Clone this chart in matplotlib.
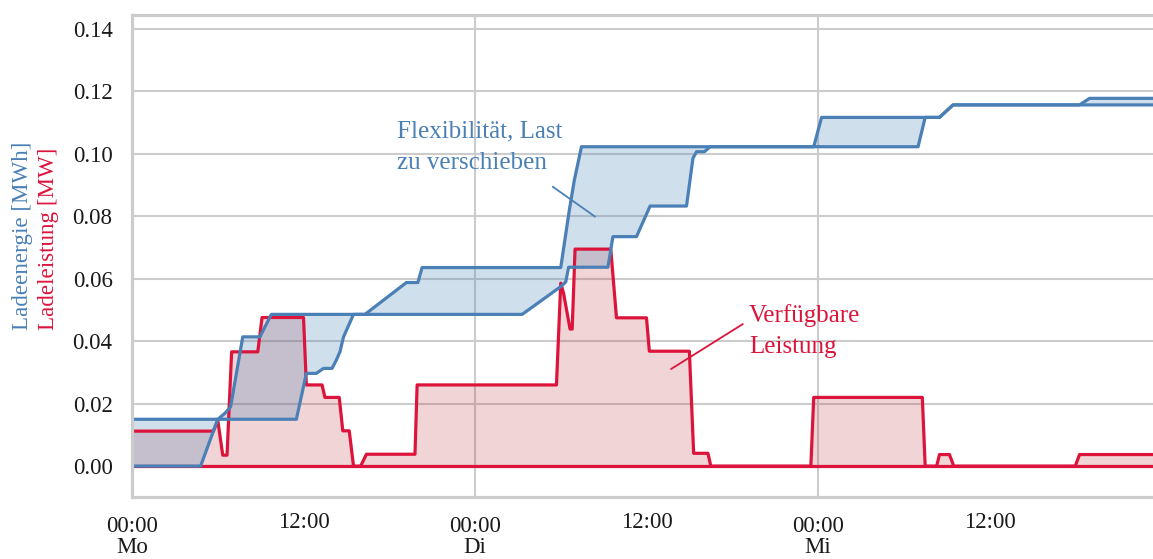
import numpy as np
import matplotlib
matplotlib.use('Agg')
import matplotlib.pyplot as plt

# hours since Monday 00:00
t_upper = [0, 6.0, 6.5, 6.9, 7.75, 8.95, 9.75, 16.3, 19.2, 20.0, 20.3, 30.0,
           30.6, 30.95, 31.45, 47.7, 48.25, 56.5, 57.45, 66.3, 67.0, 72]
e_upper = [0.015, 0.015, 0.0169, 0.019, 0.0414, 0.0414, 0.0486, 0.0486, 0.0588, 0.0588,
           0.0636, 0.0636, 0.082, 0.0916, 0.1023, 0.1023, 0.1117, 0.1117, 0.1157, 0.1157,
           0.1178, 0.1178]

t_lower = [0, 4.8, 6.0, 11.5, 12.2, 12.9, 13.4, 14.0, 14.3, 14.55, 14.8, 15.5, 27.3,
           30.0, 30.35, 30.55, 33.3, 33.65, 35.3, 36.25, 38.8, 39.25, 39.5, 40.05, 40.45,
           55.0, 55.5, 56.5, 57.45, 72]
e_lower = [0, 0, 0.015, 0.015, 0.0297, 0.0297, 0.0313, 0.0313, 0.034, 0.0366, 0.0414,
           0.0486, 0.0486, 0.0575, 0.059, 0.0637, 0.0637, 0.0735, 0.0735, 0.0833, 0.0833,
           0.0986, 0.1007, 0.1007, 0.1023, 0.1023, 0.1117, 0.1117, 0.1157, 0.1157]

t_power = [0, 5.7, 6.0, 6.35, 6.65, 6.97, 8.8, 9.1, 12.0, 12.2, 13.3, 13.5, 14.5, 14.75,
           15.2, 15.5, 16.0, 16.4, 19.8, 19.95, 29.7, 30.0, 30.2, 30.65, 30.8, 31.0, 33.5,
           33.9, 36.0, 36.2, 39.0, 39.3, 40.3, 40.5, 47.5, 47.7, 55.3, 55.5, 56.3, 56.5,
           57.2, 57.5, 66.0, 66.3, 72]
p_power = [0.0112, 0.0112, 0.0147, 0.0035, 0.0035, 0.0366, 0.0366, 0.0476, 0.0476, 0.026,
           0.026, 0.022, 0.022, 0.0113, 0.0113, 0, 0, 0.0038, 0.0038, 0.026, 0.026, 0.0586,
           0.0553, 0.0439, 0.0439, 0.0695, 0.0695, 0.0475, 0.0475, 0.0368, 0.0368, 0.0041,
           0.0041, 0, 0, 0.022, 0.022, 0, 0, 0.0037, 0.0037, 0, 0, 0.0037, 0.0037]

major_ticks = [0, 24, 48]
major_labels = ['00:00\nMo', '00:00\nDi', '00:00\nMi']
minor_ticks = [12, 36, 60]
minor_labels = ['12:00', '12:00', '12:00']
y_ticks = [0.0, 0.02, 0.04, 0.06, 0.08, 0.10, 0.12, 0.14]

blue = '#4a80b6'
red = '#dc143c'
grid_c = '#cccccc'

plt.rcParams['font.family'] = ['Liberation Serif', 'DejaVu Serif']

fig = plt.figure(figsize=(11.53, 5.59), dpi=100)
ax = fig.add_axes([132 / 1153, 1 - 497 / 559, 1029 / 1153, 482 / 559])

# available power
ax.fill_between(t_power, 0, p_power, color='#b42832', alpha=0.2, lw=0)
ax.plot(t_power, p_power, color=red, lw=2.3)
ax.plot([0, 72], [0, 0], color=red, lw=2.3)

# flexibility band between earliest and latest charging
ax.fill(np.concatenate([t_upper, t_lower[::-1]]),
        np.concatenate([e_upper, e_lower[::-1]]),
        color='#4682b4', alpha=0.25, lw=0)
ax.plot(t_upper, e_upper, color=blue, lw=2.3)
ax.plot(t_lower, e_lower, color=blue, lw=2.3)

ax.set_xlim(0, 72)
ax.set_ylim(-0.0099, 0.1445)
ax.set_yticks(y_ticks)
ax.set_yticklabels(['%.2f' % v for v in y_ticks])
ax.set_xticks(major_ticks)
ax.set_xticklabels(major_labels, linespacing=1.0)
ax.set_xticks(minor_ticks, minor=True)
ax.set_xticklabels(minor_labels, minor=True)
ax.tick_params(axis='both', which='both', length=0, labelsize=16.5, colors='#1a1a1a')
ax.tick_params(axis='y', pad=14)
ax.tick_params(axis='x', which='major', pad=14)
ax.tick_params(axis='x', which='minor', pad=11)

ax.grid(True, which='major', color=grid_c, lw=1.5)
ax.set_axisbelow(True)
for s in ax.spines.values():
    s.set_color(grid_c)
    s.set_linewidth(2.3)

# annotations
ax.text(18.54, 0.1022, 'Flexibilität, Last\nzu verschieben', color=blue, fontsize=18,
        ha='left', va='center', linespacing=1.55)
ax.annotate('', xy=(32.4, 0.0799), xytext=(29.44, 0.0895),
            arrowprops=dict(arrowstyle='-', color=blue, lw=1.3, shrinkA=0, shrinkB=0))
ax.text(43.18, 0.0433, 'Verfügbare\nLeistung', color=red, fontsize=18,
        ha='left', va='center', linespacing=1.55)
ax.annotate('', xy=(37.72, 0.0311), xytext=(42.74, 0.0455),
            arrowprops=dict(arrowstyle='-', color=red, lw=1.3, shrinkA=0, shrinkB=0))

# two-coloured y label
fig.text(22.5 / 1153, 1 - 330 / 559, 'Ladeenergie [MWh]', color=blue, fontsize=16.6,
         rotation=90, ha='center', va='bottom')
fig.text(49 / 1153, 1 - 330 / 559, 'Ladeleistung [MW]', color=red, fontsize=16.6,
         rotation=90, ha='center', va='bottom')

plt.savefig('out.png', dpi=100)
